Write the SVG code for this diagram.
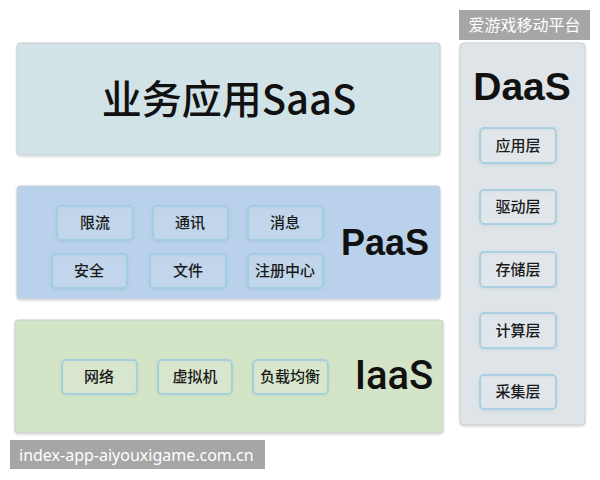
<svg xmlns="http://www.w3.org/2000/svg" width="600" height="480" viewBox="0 0 600 480">
<defs>
<filter id="sh" x="-10%" y="-10%" width="120%" height="130%"><feDropShadow dx="0" dy="1" stdDeviation="1" flood-color="#000" flood-opacity="0.18"/></filter>
<filter id="bs" x="-20%" y="-30%" width="140%" height="160%"><feDropShadow dx="0" dy="1" stdDeviation="1.5" flood-color="#7aa" flood-opacity="0.3"/></filter>
</defs>
<style>
.panel{stroke:#c8cfd3;stroke-width:1;filter:url(#sh)}
.box{fill:#ffffff;fill-opacity:0.12;stroke:#9ccbe2;stroke-width:1.5;filter:url(#bs)}
.bt{font-family:"Noto Sans CJK SC","Noto Sans",sans-serif;font-size:15px;font-weight:500;fill:#1a1a1a;text-anchor:middle}
.big{font-family:"Liberation Sans","Noto Sans CJK SC",sans-serif;font-weight:bold;fill:#111;text-anchor:middle}
.wm{fill:#a6a6a6}
.wt{font-family:"Noto Sans","Noto Sans CJK SC",sans-serif;font-size:16px;fill:#fff}
</style>
<rect width="600" height="480" fill="#ffffff"/>
<g id="saas">
<rect class="panel" x="17" y="43" width="423" height="112" rx="3" fill="#d2e3e8"/>
<text x="229" y="114" font-size="40" text-anchor="middle" fill="#111" style="font-family:'Noto Sans CJK SC',sans-serif;font-weight:500">业务应用SaaS</text>
</g>
<g id="paas">
<rect class="panel" x="17" y="186" width="423" height="113" rx="3" fill="#b9d1ea"/>
<text class="big" x="385" y="255" font-size="36">PaaS</text>
<g id="xianliu"><rect class="box" x="57" y="206" width="76" height="34" rx="4"/><text class="bt" x="95" y="228">限流</text></g>
<g id="tongxun"><rect class="box" x="153" y="206" width="75" height="34" rx="4"/><text class="bt" x="190" y="228">通讯</text></g>
<g id="xiaoxi"><rect class="box" x="248" y="206" width="75" height="34" rx="4"/><text class="bt" x="285" y="228">消息</text></g>
<g id="anquan"><rect class="box" x="52" y="254" width="75" height="34" rx="4"/><text class="bt" x="89" y="276">安全</text></g>
<g id="wenjian"><rect class="box" x="150" y="254" width="76" height="34" rx="4"/><text class="bt" x="188" y="276">文件</text></g>
<g id="zhuce"><rect class="box" x="248" y="254" width="75" height="34" rx="4"/><text class="bt" x="285" y="276">注册中心</text></g>
</g>
<g id="iaas">
<rect class="panel" x="15" y="320" width="428" height="113" rx="3" fill="#d4e4c6"/>
<text x="394" y="389" font-size="40" text-anchor="middle" fill="#111" style="font-family:Roboto,'Liberation Sans',sans-serif;font-weight:500">IaaS</text>
<g id="wangluo"><rect class="box" x="62" y="360" width="75" height="34" rx="4"/><text class="bt" x="99" y="382">网络</text></g>
<g id="xuniji"><rect class="box" x="158" y="360" width="74" height="34" rx="4"/><text class="bt" x="195" y="382">虚拟机</text></g>
<g id="fuzai"><rect class="box" x="253" y="360" width="75" height="34" rx="4"/><text class="bt" x="290" y="382">负载均衡</text></g>
</g>
<g id="daas">
<rect class="panel" x="460" y="43" width="125" height="382" rx="4" fill="#dfe4e8"/>
<text class="big" x="522" y="100" font-size="39">DaaS</text>
<g id="yingyong"><rect class="box" x="480" y="128" width="76" height="35" rx="4"/><text class="bt" x="518" y="151">应用层</text></g>
<g id="qudong"><rect class="box" x="480" y="190" width="76" height="34" rx="4"/><text class="bt" x="518" y="212">驱动层</text></g>
<g id="cunchu"><rect class="box" x="480" y="252" width="76" height="35" rx="4"/><text class="bt" x="518" y="275">存储层</text></g>
<g id="jisuan"><rect class="box" x="480" y="313" width="76" height="35" rx="4"/><text class="bt" x="518" y="336">计算层</text></g>
<g id="caiji"><rect class="box" x="480" y="375" width="76" height="34" rx="4"/><text class="bt" x="518" y="397">采集层</text></g>
</g>
<g id="connectors"/>
<g id="watermarks">
<rect class="wm" x="459" y="10" width="131" height="30"/>
<text class="wt" x="524.5" y="31" text-anchor="middle">爱游戏移动平台</text>
<rect class="wm" x="10" y="440" width="255" height="29"/>
<text class="wt" x="19" y="461">index-app-aiyouxigame.com.cn</text>
</g>
</svg>
